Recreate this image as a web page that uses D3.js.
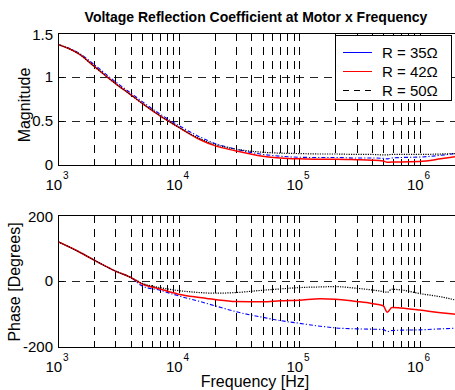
<!DOCTYPE html>
<html><head><meta charset="utf-8">
<script src="https://cdn.jsdelivr.net/npm/d3@7/dist/d3.min.js"></script>
<style>
html,body{margin:0;padding:0;background:#fff;}
svg{display:block;font-family:Arial,"Liberation Sans",Helvetica,sans-serif;}
</style></head>
<body><svg id="c" width="455" height="390"></svg>
<script>
const freq    = [1e3,1.5e3,2e3,3e3,4e3,5e3,7e3,1e4,1.5e4,2e4,3e4,5e4,7e4,1e5,1.5e5,2e5,3e5,4e5,5e5,5.4e5,5.9e5,7e5,1e6,1.5e6,2e6];
const magR35  = [1.37,1.27,1.14,0.945,0.82,0.72,0.58,0.45,0.32,0.245,0.18,0.12,0.10,0.088,0.085,0.085,0.08,0.08,0.075,0.07,0.08,0.085,0.09,0.11,0.13];
const magR42  = [1.37,1.26,1.12,0.925,0.80,0.70,0.56,0.43,0.29,0.22,0.16,0.10,0.08,0.07,0.065,0.065,0.06,0.055,0.045,0.03,0.035,0.035,0.04,0.07,0.095];
const magR50  = [1.37,1.26,1.12,0.925,0.80,0.70,0.56,0.43,0.30,0.235,0.18,0.145,0.135,0.13,0.125,0.125,0.12,0.12,0.115,0.115,0.12,0.12,0.12,0.125,0.13];
const phR35   = [119,88,63,30,11,-15,-28,-45,-62,-75,-93,-110,-120,-128,-137,-142,-145,-146,-147,-153,-150,-149,-148,-145,-143];
const phR42   = [119,88,63,30,11,-9,-24,-40,-50,-56,-62,-63,-60,-58,-54,-55,-62,-68,-75,-95,-80,-82,-88,-96,-101];
const phR50   = [119,88,63,30,11,-7,-20,-29,-35,-37,-35,-28,-24,-20,-18,-17,-22,-27,-32,-34,-25,-27,-38,-48,-58];
const seriesNames = ["R = 35\u03A9","R = 42\u03A9","R = 50\u03A9"];
const seriesColors = ["#0000ff","#ff0000","#000000"];
const magTicks = [0,0.5,1,1.5];
const magTickLabels = ["0","0.5","1","1.5"];
const phTicks = [-200,0,200];
const phTickLabels = ["-200","0","200"];
const decadeTicks = [1e3,1e4,1e5,1e6];
const decadeExps = ["3","4","5","6"];
const titleText = "Voltage Reflection Coefficient at Motor x Frequency";

const svg = d3.select("#c");
const x = d3.scaleLog().domain([1e3,2e6]).range([58,455.8]);
const minorX = [];
for (let d=1e3; d<2e6; d*=10) for (let k=1;k<=9;k++){ const v=k*d; if(v>1e3 && v<2e6) minorX.push(v); }

const lineStyles = [
  {w:1.1, dash:"4,2,1.2,2"},
  {w:1.5, dash:null},
  {w:1.2, dash:"1.2,1.2"}
];

function panel(y, ticks, labels, data, ylabel, ylabelY, ylabelX, xLabBase){
  const [y0,y1] = y.range();
  const g = svg.append("g");
  const clipId = "clip"+Math.round(y0);
  svg.append("clipPath").attr("id",clipId).append("rect")
    .attr("x",x.range()[0]).attr("y",y1).attr("width",x.range()[1]-x.range()[0]).attr("height",y0-y1);
  g.selectAll(".vg").data(minorX).enter().append("line")
    .attr("x1",d=>Math.round(x(d))+0.5).attr("x2",d=>Math.round(x(d))+0.5)
    .attr("y1",y1).attr("y2",y0).attr("stroke","#000").attr("stroke-width",1)
    .attr("stroke-dasharray","8,6");
  g.selectAll(".hg").data(ticks.slice(1,-1)).enter().append("line")
    .attr("y1",d=>Math.round(y(d))+0.5).attr("y2",d=>Math.round(y(d))+0.5)
    .attr("x1",x.range()[0]).attr("x2",x.range()[1]).attr("stroke","#000").attr("stroke-width",1)
    .attr("stroke-dasharray","8,6").attr("opacity",0.85);
  const allX = [1e3].concat(minorX);
  allX.forEach(v=>{
    const px = Math.round(x(v))+0.5;
    g.append("line").attr("x1",px).attr("x2",px).attr("y1",y0).attr("y2",y0-6).attr("stroke","#000");
    g.append("line").attr("x1",px).attr("x2",px).attr("y1",y1).attr("y2",y1+6).attr("stroke","#000");
  });
  ticks.forEach(v=>{
    const py = Math.round(y(v))+0.5;
    g.append("line").attr("x1",x.range()[0]).attr("x2",x.range()[0]+6).attr("y1",py).attr("y2",py).attr("stroke","#000");
  });
  const cg = svg.append("g").attr("clip-path","url(#"+clipId+")");
  const line = d3.line().x((d,i)=>x(freq[i])).y(d=>y(d)).curve(d3.curveMonotoneX);
  data.forEach((arr,si)=>{
    const p = cg.append("path").attr("d",line(arr)).attr("fill","none")
      .attr("stroke",seriesColors[si]).attr("stroke-width",lineStyles[si].w);
    if(lineStyles[si].dash) p.attr("stroke-dasharray",lineStyles[si].dash);
  });
  svg.append("rect").attr("x",x.range()[0]+0.5).attr("y",y1+0.5)
    .attr("width",x.range()[1]-x.range()[0]).attr("height",y0-y1)
    .attr("fill","none").attr("stroke","#000").attr("stroke-width",1);
  ticks.forEach((v,i)=>{
    let py = y(v);
    if(i===ticks.length-1) py += 2;
    svg.append("text").attr("x",53).attr("y",py+5).attr("text-anchor","end")
      .attr("font-size",15).text(labels[i]);
  });
  decadeTicks.forEach((v,i)=>{
    const t = svg.append("text").attr("x",x(v)-1).attr("y",xLabBase).attr("text-anchor","middle").attr("font-size",15);
    t.append("tspan").text("10");
    t.append("tspan").attr("dx",1).attr("dy",-11).attr("font-size",10).text(decadeExps[i]);
  });
  svg.append("text").attr("transform","translate("+ylabelX+","+ylabelY+") rotate(-90)")
    .attr("text-anchor","middle").attr("font-size",16).text(ylabel);
}

const yMag = d3.scaleLinear().domain([0,1.5]).range([165,33]);
const yPh = d3.scaleLinear().domain([-200,200]).range([347,215]);
panel(yMag, magTicks, magTickLabels, [magR35,magR42,magR50], "Magnitude", 105, 30, 190);
panel(yPh, phTicks, phTickLabels, [phR35,phR42,phR50], "Phase [Degrees]", 282, 20, 371.5);

svg.append("text").attr("x",256).attr("y",21.5).attr("text-anchor","middle")
  .attr("font-size",14).attr("font-weight","bold").text(titleText);
svg.append("text").attr("x",255).attr("y",387).attr("text-anchor","middle")
  .attr("font-size",16).text("Frequency [Hz]");

const lg = svg.append("g");
lg.append("rect").attr("x",335.5).attr("y",35.5).attr("width",116).attr("height",65)
  .attr("fill","#fff").attr("stroke","#000").attr("stroke-width",1);
const legendDash = [null,null,"6,5"];
seriesNames.forEach((n,i)=>{
  const cy = 52 + i*19;
  const l = lg.append("line").attr("x1",343).attr("x2",372).attr("y1",cy+0.5).attr("y2",cy+0.5)
    .attr("stroke",seriesColors[i]).attr("stroke-width",1);
  if(legendDash[i]) l.attr("stroke-dasharray",legendDash[i]);
  lg.append("text").attr("x",382).attr("y",cy+5.5).attr("font-size",15).text(n);
});
</script></body></html>
